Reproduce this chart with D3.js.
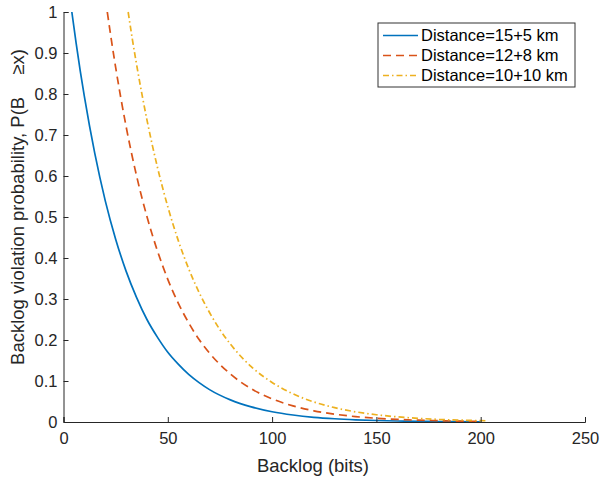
<!DOCTYPE html>
<html>
<head>
<meta charset="utf-8">
<script src="https://cdn.jsdelivr.net/npm/d3@7"></script>
<style>
  body { margin: 0; background: #fff; }
  svg { display: block; font-family: "Liberation Sans", Arial, Helvetica, sans-serif; }
</style>
</head>
<body>
<svg id="chart" width="600" height="479"></svg>
<script>
// Data
const seriesNames = ["Distance=15+5 km", "Distance=12+8 km", "Distance=10+10 km"];
const blueX = [4, 6, 8, 10, 15, 20, 25, 30, 35, 40, 45, 50, 55, 60, 65, 70, 80, 90, 100, 110, 120, 130, 140, 150, 160, 170, 180, 190, 200];
const blueY = [1, 0.926, 0.857, 0.794, 0.655, 0.540, 0.446, 0.368, 0.304, 0.250, 0.207, 0.170, 0.141, 0.116, 0.096, 0.079, 0.054, 0.037, 0.025, 0.017, 0.0115, 0.0079, 0.0054, 0.0036, 0.0025, 0.0017, 0.0011, 0.0008, 0.0005];
const redX = [21, 23, 25, 30, 35, 40, 45, 50, 55, 60, 65, 70, 80, 90, 100, 110, 120, 130, 140, 150, 160, 170, 180, 190, 200];
const redY = [1, 0.930, 0.865, 0.721, 0.601, 0.501, 0.418, 0.348, 0.290, 0.242, 0.201, 0.168, 0.117, 0.081, 0.0565, 0.0393, 0.0273, 0.0190, 0.0132, 0.0092, 0.0064, 0.0044, 0.0031, 0.0021, 0.0015];
const yellowX = [31, 33, 35, 40, 45, 50, 55, 60, 65, 70, 75, 80, 90, 100, 110, 120, 130, 140, 150, 160, 170, 180, 190, 200, 203];
const yellowY = [1, 0.934, 0.873, 0.737, 0.622, 0.525, 0.443, 0.374, 0.316, 0.267, 0.225, 0.190, 0.135, 0.0964, 0.0687, 0.0489, 0.0349, 0.0248, 0.0177, 0.0126, 0.0090, 0.0064, 0.0046, 0.0033, 0.0030];
const xTicks = [0, 50, 100, 150, 200, 250];
const yTicks = [0, 0.1, 0.2, 0.3, 0.4, 0.5, 0.6, 0.7, 0.8, 0.9, 1];
const colors = ["#0072BD", "#D95319", "#EDB120"];
const dashes = [null, "8,5", "6,3,1.5,3"];

const svg = d3.select("#chart");
const mLeft = 63.5, mRight = 585, mTop = 12, mBottom = 422;
const x = d3.scaleLinear().domain([0, 250]).range([mLeft, mRight]);
const y = d3.scaleLinear().domain([0, 1]).range([mBottom, mTop]);
const axisColor = "#262626";

const series = [
  blueX.map((v, i) => [v, blueY[i]]),
  redX.map((v, i) => [v, redY[i]]),
  yellowX.map((v, i) => [v, yellowY[i]])
];

const line = d3.line().x(d => x(d[0])).y(d => y(d[1])).curve(d3.curveMonotoneX);
const plot = svg.append("g");
series.forEach((s, i) => {
  plot.append("path")
    .attr("d", line(s))
    .attr("fill", "none")
    .attr("stroke", colors[i])
    .attr("stroke-width", 1.7)
    .attr("stroke-dasharray", dashes[i]);
});

// Axes (MATLAB-style inward ticks)
const xAxis = d3.axisBottom(x).tickValues(xTicks).tickSize(-5).tickPadding(10).tickFormat(d3.format("d"));
const gx = svg.append("g").attr("transform", `translate(0,${mBottom})`).call(xAxis);
const yAxis = d3.axisLeft(y).tickValues(yTicks).tickSize(-5).tickPadding(6).tickFormat(d => d === 0 || d === 1 ? String(d) : d3.format(".1f")(d));
const gy = svg.append("g").attr("transform", `translate(${mLeft},0)`).call(yAxis);
[gx, gy].forEach(g => {
  g.select(".domain").attr("stroke", axisColor).attr("stroke-width", 1);
  g.selectAll(".tick line").attr("stroke", axisColor).attr("stroke-width", 1);
  g.selectAll(".tick text").attr("fill", axisColor).style("font-size", "16.5px").style("font-family", "Liberation Sans, Arial, sans-serif");
});
gx.selectAll(".tick text").attr("dy", "0.71em");

// Axis labels
svg.append("text")
  .attr("x", 313).attr("y", 472)
  .attr("text-anchor", "middle")
  .attr("fill", axisColor)
  .style("font-size", "18.5px")
  .text("Backlog (bits)");
svg.append("text")
  .attr("transform", `translate(24,207) rotate(-90)`)
  .attr("text-anchor", "middle")
  .attr("fill", axisColor)
  .style("font-size", "18.5px")
  .text("Backlog violation probability, P(B\u2003\u2009\u2265x)");

// Legend
const lg = svg.append("g");
lg.append("rect")
  .attr("x", 378).attr("y", 23).attr("width", 197).attr("height", 64)
  .attr("fill", "#fff").attr("stroke", "#333").attr("stroke-width", 1);
const rowsY = [35.5, 55.5, 75.5];
seriesNames.forEach((name, i) => {
  lg.append("line")
    .attr("x1", 383).attr("x2", 418).attr("y1", rowsY[i]).attr("y2", rowsY[i])
    .attr("stroke", colors[i]).attr("stroke-width", 1.7)
    .attr("stroke-dasharray", dashes[i]);
  lg.append("text")
    .attr("x", 421).attr("y", rowsY[i]).attr("dy", "0.36em")
    .attr("fill", "#000")
    .style("font-size", "16.5px")
    .text(name);
});
</script>
</body>
</html>
